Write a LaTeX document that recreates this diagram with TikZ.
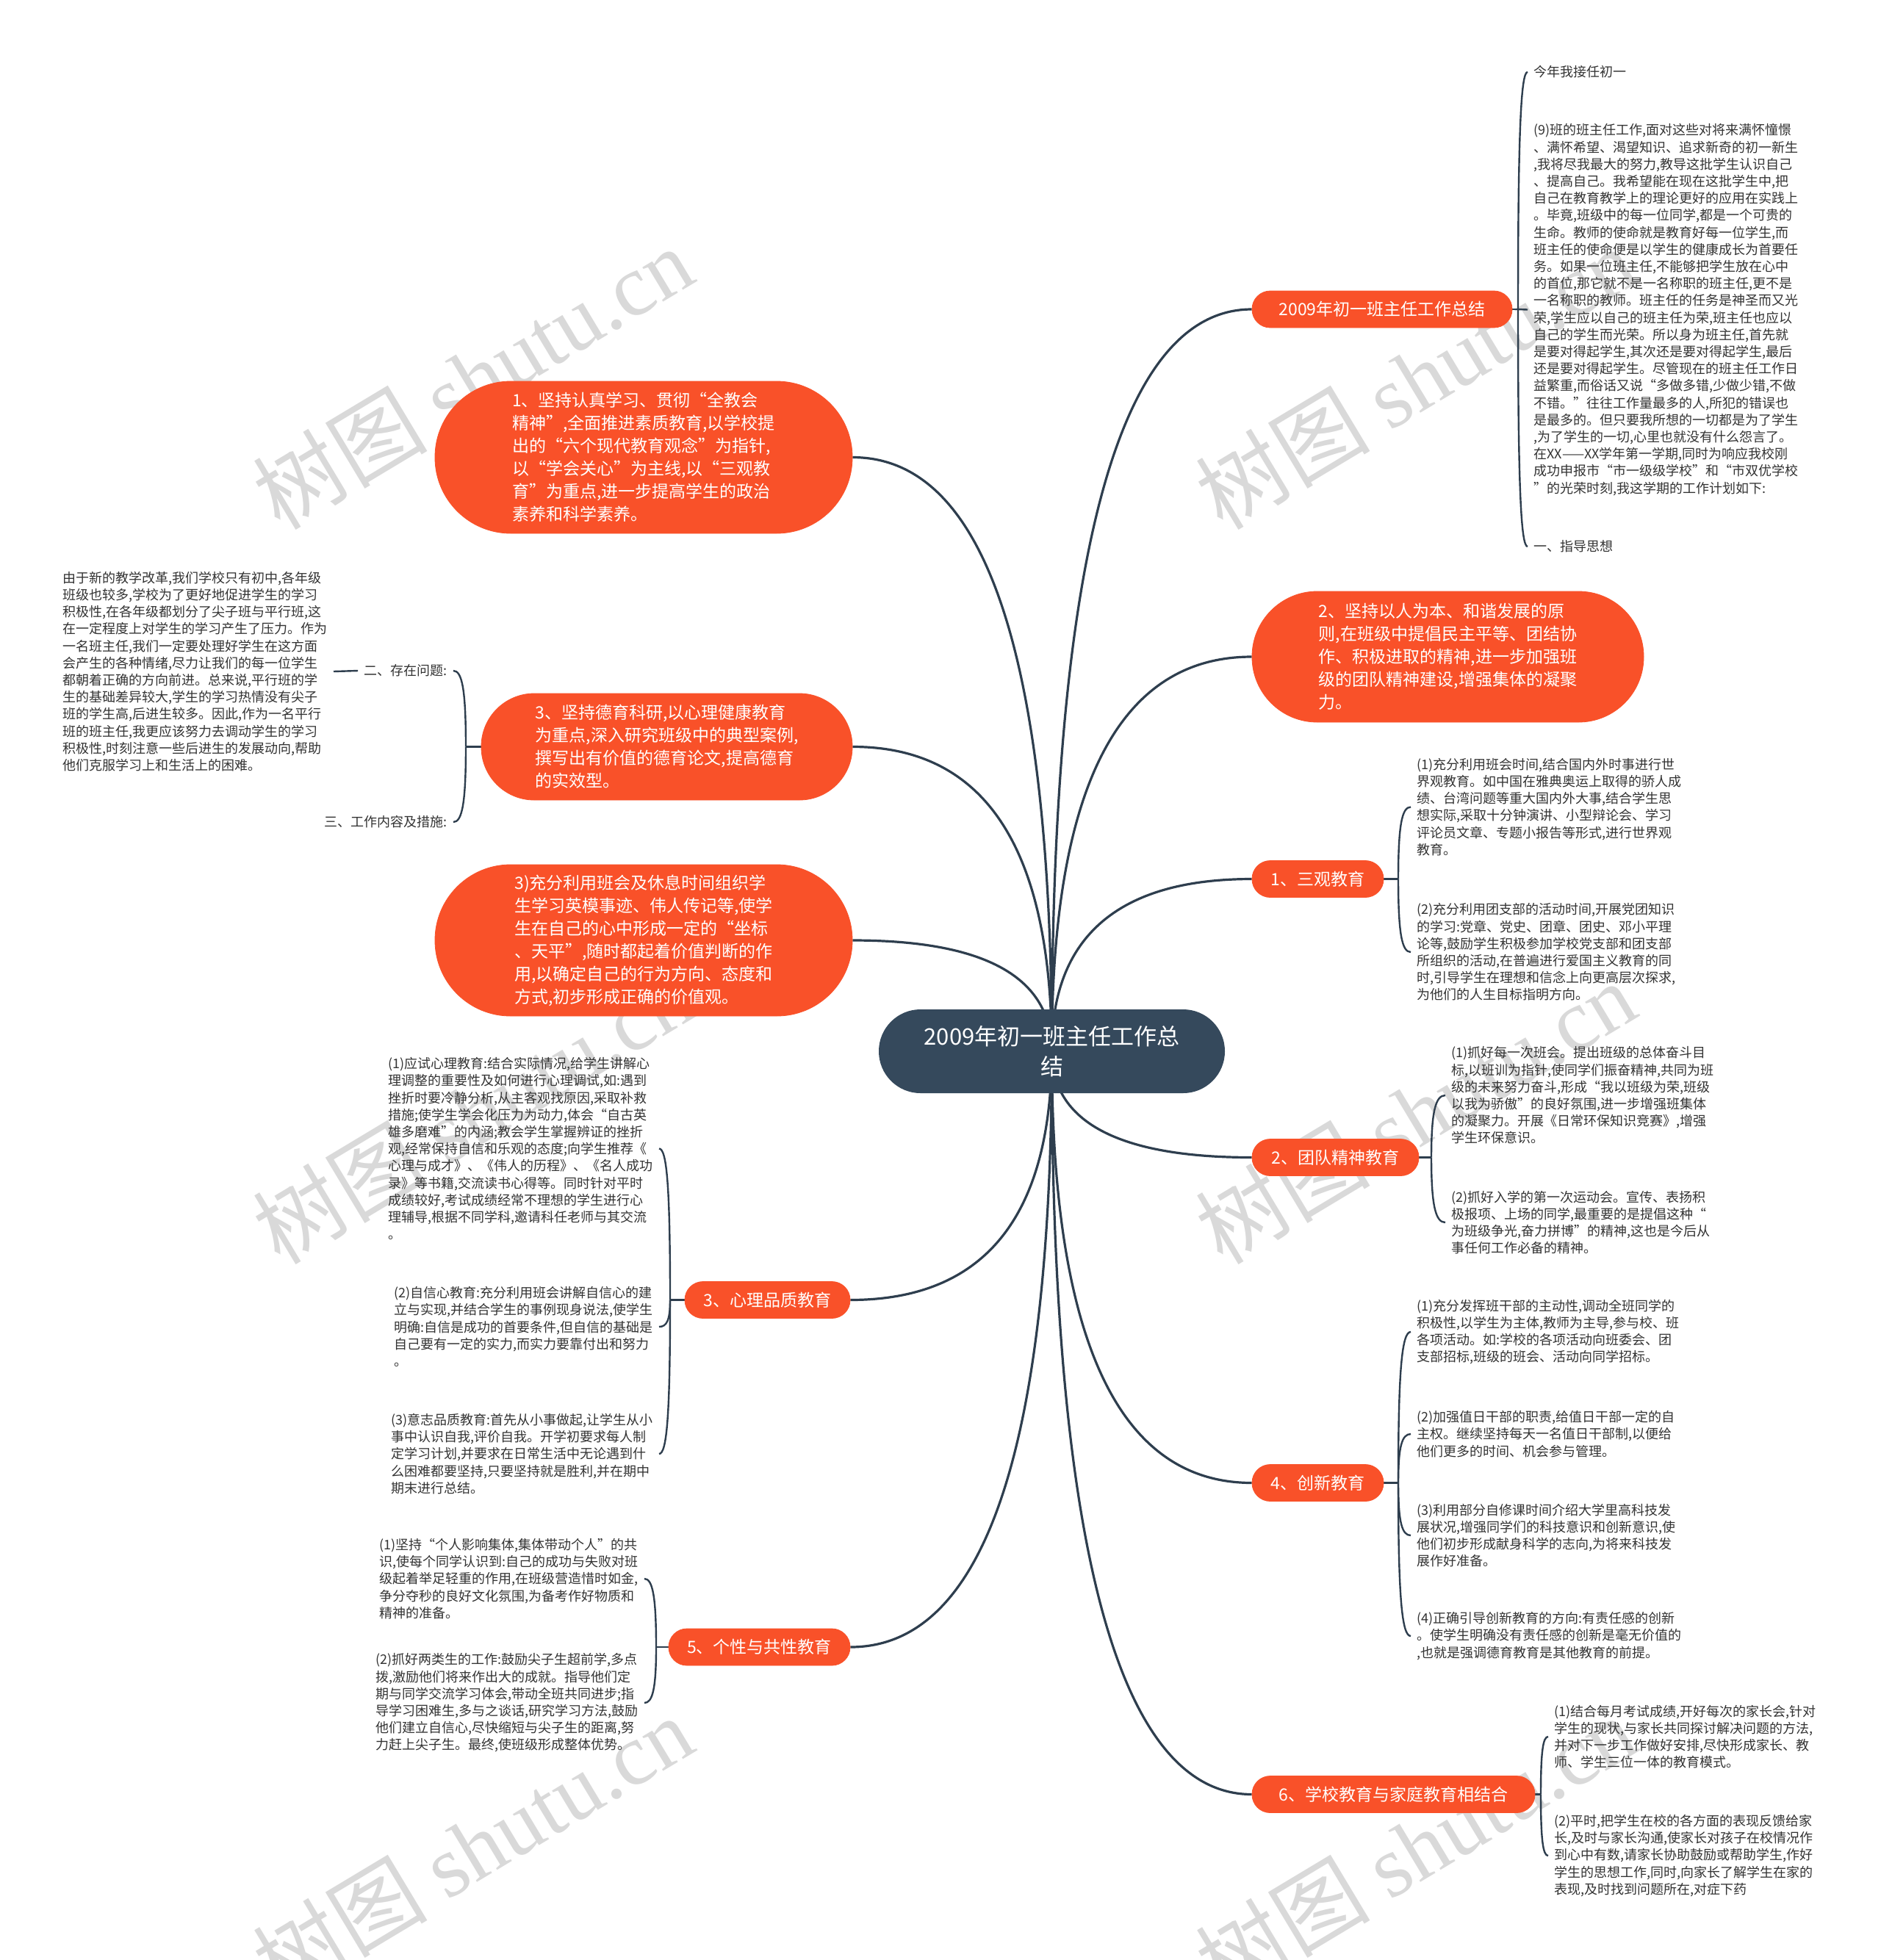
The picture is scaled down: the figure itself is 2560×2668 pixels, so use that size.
\documentclass[tikz,border=0pt]{standalone}
\usepackage{fontspec}
\setmainfont{Noto Sans CJK SC}
\newfontfamily\wmlat{Liberation Serif}
\definecolor{orangec}{HTML}{F95129}
\definecolor{darkc}{HTML}{35495C}
\definecolor{linec}{HTML}{2E3E4E}
\definecolor{txtc}{HTML}{333333}
\pgfdeclarelayer{wm}
\pgfdeclarelayer{bg}
\pgfsetlayers{wm,bg,main}
\begin{document}
\begin{tikzpicture}[x=0.5pt,y=-0.5pt,
  leafnode/.style={font=\fontsize{9}{11.6}\selectfont, align=left, inner xsep=4pt, inner ysep=2pt, text=txtc},
  bignode/.style={fill=orangec, draw=orangec, text=white, font=\fontsize{11.5}{15.5}\selectfont, align=left, inner sep=0pt},
  tagnode/.style={fill=orangec, draw=orangec, text=white, font=\fontsize{11.5}{14}\selectfont, inner sep=0pt, minimum height=25pt, rounded corners=12.4pt},
  conn/.style={draw=linec, line width=1.6pt},
  brk/.style={draw=linec, line width=1.2pt},
  wmark/.style={font=\fontsize{59.5}{60}\selectfont, text=black!15, rotate=31, inner sep=0pt}
]
\useasboundingbox (0,0) rectangle (2560,2668);

% ---------- watermarks ----------
\begin{pgfonlayer}{wm}
\fill[white] (0,0) rectangle (2560,2668);
\node[wmark] (wm1) at (643,514) {树图 {\wmlat shutu.cn}};
\node[wmark] (wm2) at (1926,514) {树图 {\wmlat shutu.cn}};
\node[wmark] (wm3) at (643,1514) {树图 {\wmlat shutu.cn}};
\node[wmark] (wm4) at (1926,1514) {树图 {\wmlat shutu.cn}};
\node[wmark] (wm5) at (643,2514) {树图 {\wmlat shutu.cn}};
\node[wmark] (wm6) at (1926,2514) {树图 {\wmlat shutu.cn}};
\end{pgfonlayer}

% ---------- centre ----------
\node[fill=darkc, text=white, font=\fontsize{15.5}{20.5}\selectfont, align=center,
      minimum width=235.5pt, minimum height=57pt, rounded corners=28.4pt, inner sep=0pt]
      (c) at (1431.5,1431) {2009年初一班主任工作总\\结};

% ---------- left first level ----------
\node[bignode, minimum width=284pt, minimum height=103.5pt, rounded corners=51.6pt] (l1) at (876,622.5)
{1、坚持认真学习、贯彻“全教会\\精神”,全面推进素质教育,以学校提\\出的“六个现代教育观念”为指针,\\以“学会关心”为主线,以“三观教\\育”为重点,进一步提高学生的政治\\素养和科学素养。};
\node[bignode, minimum width=252.5pt, minimum height=72.5pt, rounded corners=36.1pt] (l2) at (907.5,1016.5)
{3、坚持德育科研,以心理健康教育\\为重点,深入研究班级中的典型案例,\\撰写出有价值的德育论文,提高德育\\的实效型。};
\node[bignode, minimum width=284pt, minimum height=103pt, rounded corners=51.4pt] (l3) at (876,1280)
{3)充分利用班会及休息时间组织学\\生学习英模事迹、伟人传记等,使学\\生在自己的心中形成一定的“坐标\\、天平”,随时都起着价值判断的作\\用,以确定自己的行为方向、态度和\\方式,初步形成正确的价值观。};
\node[tagnode, minimum width=112.5pt] (l4) at (1044.5,1769.5) {3、心理品质教育};
\node[tagnode, minimum width=123.5pt] (l5) at (1033.5,2242) {5、个性与共性教育};

% ---------- right first level ----------
\node[tagnode, minimum width=177pt] (r1) at (1881,421) {2009年初一班主任工作总结};
\node[bignode, minimum width=266.5pt, minimum height=89pt, rounded corners=44.4pt] (r2) at (1970.5,894)
{2、坚持以人为本、和谐发展的原\\则,在班级中提倡民主平等、团结协\\作、积极进取的精神,进一步加强班\\级的团队精神建设,增强集体的凝聚\\力。};
\node[tagnode, minimum width=89.5pt] (r3) at (1793.5,1196.5) {1、三观教育};
\node[tagnode, minimum width=113.5pt] (r4) at (1817.5,1575.5) {2、团队精神教育};
\node[tagnode, minimum width=89.5pt] (r5) at (1793.5,2018.5) {4、创新教育};
\node[tagnode, minimum width=192.5pt] (r6) at (1896.5,2442.5) {6、学校教育与家庭教育相结合};

% ---------- leaves right ----------
\node[leafnode, anchor=west] (r1a) at (2079,98) {今年我接任初一};
\node[leafnode, anchor=west] (r1b) at (2079,421.5)
{(9)班的班主任工作,面对这些对将来满怀憧憬\\、满怀希望、渴望知识、追求新奇的初一新生\\,我将尽我最大的努力,教导这批学生认识自己\\、提高自己。我希望能在现在这批学生中,把\\自己在教育教学上的理论更好的应用在实践上\\。毕竟,班级中的每一位同学,都是一个可贵的\\生命。教师的使命就是教育好每一位学生,而\\班主任的使命便是以学生的健康成长为首要任\\务。如果一位班主任,不能够把学生放在心中\\的首位,那它就不是一名称职的班主任,更不是\\一名称职的教师。班主任的任务是神圣而又光\\荣,学生应以自己的班主任为荣,班主任也应以\\自己的学生而光荣。所以身为班主任,首先就\\是要对得起学生,其次还是要对得起学生,最后\\还是要对得起学生。尽管现在的班主任工作日\\益繁重,而俗话又说“多做多错,少做少错,不做\\不错。”往往工作量最多的人,所犯的错误也\\是最多的。但只要我所想的一切都是为了学生\\,为了学生的一切,心里也就没有什么怨言了。\\在XX——XX学年第一学期,同时为响应我校刚\\成功申报市“市一级级学校”和“市双优学校\\”的光荣时刻,我这学期的工作计划如下:};
\node[leafnode, anchor=west] (r1c) at (2079,744) {一、指导思想};

\node[leafnode, anchor=west] (r3a) at (1920,1098.5)
{(1)充分利用班会时间,结合国内外时事进行世\\界观教育。如中国在雅典奥运上取得的骄人成\\绩、台湾问题等重大国内外大事,结合学生思\\想实际,采取十分钟演讲、小型辩论会、学习\\评论员文章、专题小报告等形式,进行世界观\\教育。};
\node[leafnode, anchor=west] (r3b) at (1920,1296)
{(2)充分利用团支部的活动时间,开展党团知识\\的学习:党章、党史、团章、团史、邓小平理\\论等,鼓励学生积极参加学校党支部和团支部\\所组织的活动,在普遍进行爱国主义教育的同\\时,引导学生在理想和信念上向更高层次探求,\\为他们的人生目标指明方向。};

\node[leafnode, anchor=west] (r4a) at (1967,1491)
{(1)抓好每一次班会。提出班级的总体奋斗目\\标,以班训为指针,使同学们振奋精神,共同为班\\级的未来努力奋斗,形成“我以班级为荣,班级\\以我为骄傲”的良好氛围,进一步增强班集体\\的凝聚力。开展《日常环保知识竞赛》,增强\\学生环保意识。};
\node[leafnode, anchor=west] (r4b) at (1967,1664)
{(2)抓好入学的第一次运动会。宣传、表扬积\\极报项、上场的同学,最重要的是提倡这种“\\为班级争光,奋力拼博”的精神,这也是今后从\\事任何工作必备的精神。};

\node[leafnode, anchor=west] (r5a) at (1920,1813)
{(1)充分发挥班干部的主动性,调动全班同学的\\积极性,以学生为主体,教师为主导,参与校、班\\各项活动。如:学校的各项活动向班委会、团\\支部招标,班级的班会、活动向同学招标。};
\node[leafnode, anchor=west] (r5b) at (1920,1952)
{(2)加强值日干部的职责,给值日干部一定的自\\主权。继续坚持每天一名值日干部制,以便给\\他们更多的时间、机会参与管理。};
\node[leafnode, anchor=west] (r5c) at (1920,2090)
{(3)利用部分自修课时间介绍大学里高科技发\\展状况,增强同学们的科技意识和创新意识,使\\他们初步形成献身科学的志向,为将来科技发\\展作好准备。};
\node[leafnode, anchor=west] (r5d) at (1920,2227)
{(4)正确引导创新教育的方向:有责任感的创新\\。使学生明确没有责任感的创新是毫无价值的\\,也就是强调德育教育是其他教育的前提。};

\node[leafnode, anchor=west] (r6a) at (2107,2364)
{(1)结合每月考试成绩,开好每次的家长会,针对\\学生的现状,与家长共同探讨解决问题的方法,\\并对下一步工作做好安排,尽快形成家长、教\\师、学生三位一体的教育模式。};
\node[leafnode, anchor=west] (r6b) at (2107,2526)
{(2)平时,把学生在校的各方面的表现反馈给家\\长,及时与家长沟通,使家长对孩子在校情况作\\到心中有数,请家长协助鼓励或帮助学生,作好\\学生的思想工作,同时,向家长了解学生在家的\\表现,及时找到问题所在,对症下药};

% ---------- leaves left ----------
\node[leafnode, anchor=east] (l2a) at (617,913) {二、存在问题:};
\node[leafnode, anchor=east] (l2b) at (617,1119) {三、工作内容及措施:};
\node[leafnode, anchor=east] (l2aa) at (454,914)
{由于新的教学改革,我们学校只有初中,各年级\\班级也较多,学校为了更好地促进学生的学习\\积极性,在各年级都划分了尖子班与平行班,这\\在一定程度上对学生的学习产生了压力。作为\\一名班主任,我们一定要处理好学生在这方面\\会产生的各种情绪,尽力让我们的每一位学生\\都朝着正确的方向前进。总来说,平行班的学\\生的基础差异较大,学生的学习热情没有尖子\\班的学生高,后进生较多。因此,作为一名平行\\班的班主任,我更应该努力去调动学生的学习\\积极性,时刻注意一些后进生的发展动向,帮助\\他们克服学习上和生活上的困难。};

\node[leafnode, anchor=east] (l4a) at (897,1563.5)
{(1)应试心理教育:结合实际情况,给学生讲解心\\理调整的重要性及如何进行心理调试,如:遇到\\挫折时要冷静分析,从主客观找原因,采取补救\\措施;使学生学会化压力为动力,体会“自古英\\雄多磨难”的内涵;教会学生掌握辨证的挫折\\观,经常保持自信和乐观的态度;向学生推荐《\\心理与成才》、《伟人的历程》、《名人成功\\录》等书籍,交流读书心得等。同时针对平时\\成绩较好,考试成绩经常不理想的学生进行心\\理辅导,根据不同学科,邀请科任老师与其交流\\。};
\node[leafnode, anchor=east] (l4b) at (897,1806)
{(2)自信心教育:充分利用班会讲解自信心的建\\立与实现,并结合学生的事例现身说法,使学生\\明确:自信是成功的首要条件,但自信的基础是\\自己要有一定的实力,而实力要靠付出和努力\\。};
\node[leafnode, anchor=east] (l4c) at (897,1979)
{(3)意志品质教育:首先从小事做起,让学生从小\\事中认识自我,评价自我。开学初要求每人制\\定学习计划,并要求在日常生活中无论遇到什\\么困难都要坚持,只要坚持就是胜利,并在期中\\期末进行总结。};

\node[leafnode, anchor=east] (l5a) at (877,2149)
{(1)坚持“个人影响集体,集体带动个人”的共\\识,使每个同学认识到:自己的成功与失败对班\\级起着举足轻重的作用,在班级营造惜时如金,\\争分夺秒的良好文化氛围,为备考作好物质和\\精神的准备。};
\node[leafnode, anchor=east] (l5b) at (877,2318)
{(2)抓好两类生的工作:鼓励尖子生超前学,多点\\拨,激励他们将来作出大的成就。指导他们定\\期与同学交流学习体会,带动全班共同进步;指\\导学习困难生,多与之谈话,研究学习方法,鼓励\\他们建立自信心,尽快缩短与尖子生的距离,努\\力赶上尖子生。最终,使班级形成整体优势。};

% ---------- connectors ----------
\begin{pgfonlayer}{bg}
% centre to first level
\draw[conn] (c.center) .. controls (1431,758) and (1522,421) .. (r1.west);
\draw[conn] (c.center) .. controls (1431,1073) and (1522,894) .. (r2.west);
\draw[conn] (c.center) .. controls (1431,1275) and (1522,1196.5) .. (r3.west);
\draw[conn] (c.center) .. controls (1431,1527) and (1522,1575.5) .. (r4.west);
\draw[conn] (c.center) .. controls (1431,1823) and (1522,2018.5) .. (r5.west);
\draw[conn] (c.center) .. controls (1431,2105) and (1522,2442.5) .. (r6.west);
\draw[conn] (c.center) .. controls (1431,892) and (1341,622.5) .. (l1.east);
\draw[conn] (c.center) .. controls (1431,1155) and (1341,1016.5) .. (l2.east);
\draw[conn] (c.center) .. controls (1431,1330) and (1341,1280) .. (l3.east);
\draw[conn] (c.center) .. controls (1431,1656) and (1340,1769.5) .. (l4.east);
\draw[conn] (c.center) .. controls (1431,1972) and (1340,2242) .. (l5.east);

% right brackets
\coordinate (s1) at (2066,421);
\draw[brk] (r1.east) -- (s1);
\draw[brk] (s1) .. controls (2066,179) and (2070,98) .. (r1a.west);
\draw[brk] (s1) -- (r1b.west);
\draw[brk] (s1) .. controls (2066,663) and (2070,744) .. (r1c.west);

\coordinate (s3) at (1903,1196.5);
\draw[brk] (r3.east) -- (s3);
\draw[brk] (s3) .. controls (1903,1123) and (1908,1098.5) .. (r3a.west);
\draw[brk] (s3) .. controls (1903,1271) and (1908,1296) .. (r3b.west);

\coordinate (s4) at (1948,1575.5);
\draw[brk] (r4.east) -- (s4);
\draw[brk] (s4) .. controls (1948,1512) and (1954,1491) .. (r4a.west);
\draw[brk] (s4) .. controls (1948,1642) and (1954,1664) .. (r4b.west);

\coordinate (s5) at (1903,2018.5);
\draw[brk] (r5.east) -- (s5);
\draw[brk] (s5) .. controls (1903,1864) and (1908,1813) .. (r5a.west);
\draw[brk] (s5) .. controls (1903,1969) and (1908,1952) .. (r5b.west);
\draw[brk] (s5) .. controls (1903,2072) and (1908,2090) .. (r5c.west);
\draw[brk] (s5) .. controls (1903,2175) and (1908,2227) .. (r5d.west);

\coordinate (s6) at (2097,2442.5);
\draw[brk] (r6.east) -- (s6);
\draw[brk] (s6) .. controls (2097,2384) and (2100,2364) .. (r6a.west);
\draw[brk] (s6) .. controls (2097,2505) and (2100,2526) .. (r6b.west);

% left brackets
\coordinate (t2) at (634,1016.5);
\draw[brk] (l2.west) -- (t2);
\draw[brk] (t2) .. controls (634,939) and (629,913) .. (l2a.east);
\draw[brk] (t2) .. controls (634,1093) and (629,1119) .. (l2b.east);
\draw[brk] (l2a.west) -- (l2aa.east);

\coordinate (t4) at (912,1769.5);
\draw[brk] (l4.west) -- (t4);
\draw[brk] (t4) .. controls (912,1615) and (907.5,1563.5) .. (l4a.east);
\draw[brk] (t4) .. controls (912,1797) and (907.5,1806) .. (l4b.east);
\draw[brk] (t4) .. controls (912,1927) and (907.5,1979) .. (l4c.east);

\coordinate (t5) at (893,2242);
\draw[brk] (l5.west) -- (t5);
\draw[brk] (t5) .. controls (893,2172) and (888,2149) .. (l5a.east);
\draw[brk] (t5) .. controls (893,2299) and (888,2318) .. (l5b.east);
\end{pgfonlayer}
\end{tikzpicture}
\end{document}
